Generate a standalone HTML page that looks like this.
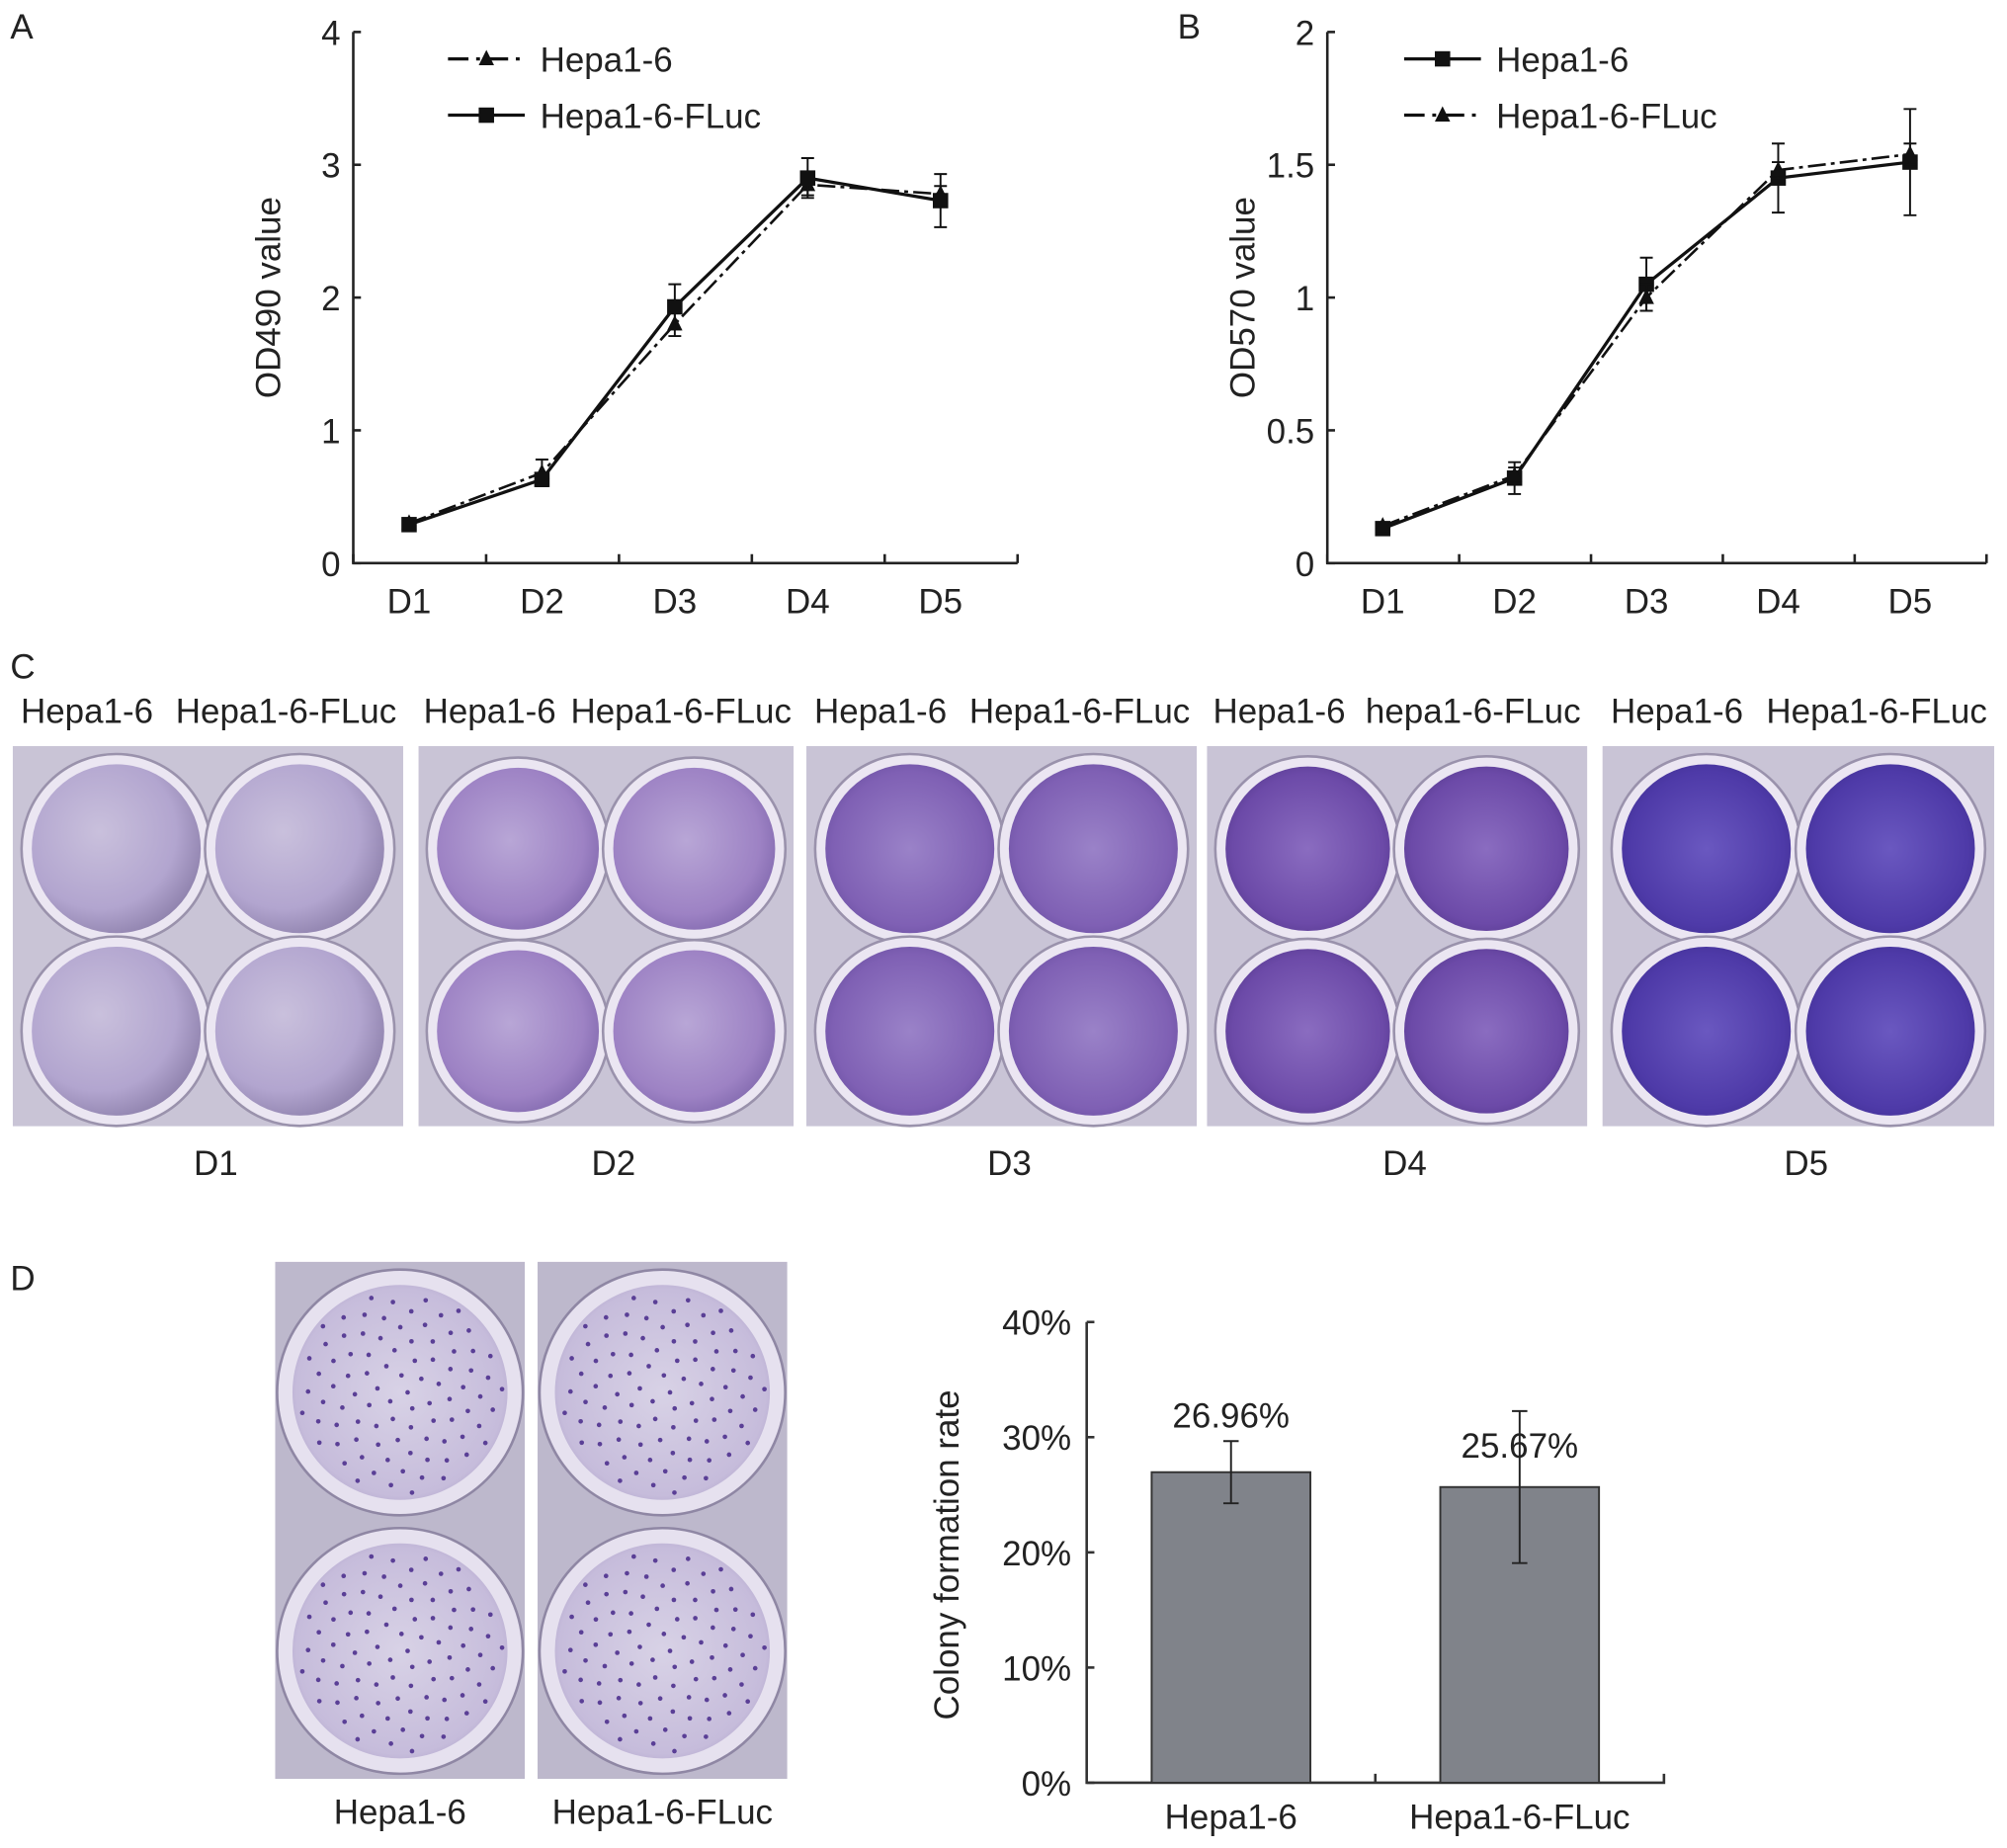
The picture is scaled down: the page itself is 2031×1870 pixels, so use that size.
<!DOCTYPE html>
<html><head><meta charset="utf-8"><style>
html,body{margin:0;padding:0;background:#fff;}
svg{display:block;font-family:"Liberation Sans",Arial,sans-serif;}
</style></head><body>
<svg id="fig" width="2031" height="1870" viewBox="0 0 1568 1444" preserveAspectRatio="none" xmlns="http://www.w3.org/2000/svg">
<defs>
<radialGradient id="w1" cx="40%" cy="40%" r="65%"><stop offset="0" stop-color="#c9c0dc"/><stop offset="0.7" stop-color="#b2a5cf"/><stop offset="1" stop-color="#8f82ad"/></radialGradient>
<radialGradient id="w2" cx="45%" cy="45%" r="65%"><stop offset="0" stop-color="#b8a6d6"/><stop offset="0.7" stop-color="#9d82c4"/><stop offset="1" stop-color="#7a62a8"/></radialGradient>
<radialGradient id="w3" cx="50%" cy="50%" r="65%"><stop offset="0" stop-color="#9a82c8"/><stop offset="0.7" stop-color="#7f60b4"/><stop offset="1" stop-color="#5f4696"/></radialGradient>
<radialGradient id="w4" cx="50%" cy="50%" r="65%"><stop offset="0" stop-color="#8a6cc0"/><stop offset="0.7" stop-color="#6c4aa8"/><stop offset="1" stop-color="#4a3080"/></radialGradient>
<radialGradient id="w5" cx="50%" cy="50%" r="65%"><stop offset="0" stop-color="#6a58c0"/><stop offset="0.7" stop-color="#4e3aa8"/><stop offset="1" stop-color="#3a2a88"/></radialGradient>
<radialGradient id="wd" cx="50%" cy="50%" r="60%"><stop offset="0" stop-color="#d8d2e6"/><stop offset="0.8" stop-color="#c6bcdb"/><stop offset="1" stop-color="#a99cc6"/></radialGradient>
</defs>
<g id="chartA"></g>
<g id="chartB"></g>
<g id="panelC"></g>
<g id="panelD"></g>
<g id="chartD"></g>
</svg>
<script>
const days = ["D1","D2","D3","D4","D5"];
const aTicks = [0,1,2,3,4];
const aHepa = [0.30,0.68,1.80,2.85,2.78];
const aHepaErr = [0.03,0.10,0.09,0.08,0.06];
const aFluc = [0.29,0.63,1.93,2.90,2.73];
const aFlucErr = [0.03,0.05,0.17,0.15,0.20];
const bTicks = [0,0.5,1,1.5,2];
const bTickLabels = ["0","0.5","1","1.5","2"];
const bHepa = [0.13,0.32,1.05,1.45,1.51];
const bHepaErr = [0.01,0.06,0.10,0.13,0.20];
const bFluc = [0.14,0.33,1.00,1.48,1.54];
const bFlucErr = [0.01,0.03,0.05,0.03,0.04];
const colonyCats = ["Hepa1-6","Hepa1-6-FLuc"];
const colonyVals = [26.96,25.67];
const colonyErr = [2.7,6.6];
const colonyLabels = ["26.96%","25.67%"];
const colonyTicks = [0,10,20,30,40];

const FS=27;
const NS="http://www.w3.org/2000/svg";
function mk(parent,tag,attrs,text){const e=document.createElementNS(NS,tag);for(const k in attrs)e.setAttribute(k,attrs[k]);if(text!==undefined)e.textContent=text;parent.appendChild(e);return e;}

function lineChart(g,o){
  const y=v=>o.y0-(v-o.min)/(o.max-o.min)*(o.y0-o.y1);
  const cw=(o.x1-o.x0)/days.length;
  const x=i=>o.x0+cw*(i+0.42);
  let ax=mk(g,'path',{d:`M${o.x0} ${o.y1} V${o.y0} H${o.x1}`,stroke:'#222','stroke-width':2,fill:'none'});
  
  o.ticks.forEach((t,i)=>{
    mk(g,'line',{x1:o.x0,x2:o.x0+6,y1:y(t),y2:y(t),stroke:'#222','stroke-width':2});
    let tl=mk(g,'text',{x:o.x0-10,y:y(t)+10,'text-anchor':'end','font-size':FS,fill:'#222'},o.tickLabels[i]);
    
  });
  for(let i=0;i<=days.length;i++)mk(g,'line',{x1:o.x0+cw*i,x2:o.x0+cw*i,y1:o.y0,y2:o.y0-7,stroke:'#222','stroke-width':2});
  days.forEach((d,i)=>{let t=mk(g,'text',{x:x(i),y:o.y0+39,'text-anchor':'middle','font-size':FS,fill:'#222'},d);
    });
  let yt=mk(g,'text',{transform:`translate(${o.x0-57},${(o.y0+o.y1)/2}) rotate(-90)`,'text-anchor':'middle','font-size':FS,fill:'#222'},o.title);
  
  mk(g,'text',{x:o.lx,y:30,'font-size':FS,fill:'#222'},o.letter);
  o.series.forEach((s,si)=>{
    const pts=s.v.map((v,i)=>`${x(i)},${y(v)}`).join(' ');
    let pl=mk(g,'polyline',{points:pts,fill:'none',stroke:'#111','stroke-width':s.dash?2:2.5,'stroke-dasharray':s.dash?'14 4 3 4':'none'});
    
    s.v.forEach((v,i)=>{
      const e=s.e[i];
      mk(g,'path',{d:`M${x(i)} ${y(v+e)} V${y(v-e)} M${x(i)-5} ${y(v+e)} H${x(i)+5} M${x(i)-5} ${y(v-e)} H${x(i)+5}`,stroke:'#111','stroke-width':1.5});
      let m;
      if(s.tri) m=mk(g,'path',{d:`M${x(i)} ${y(v)-7} L${x(i)+6} ${y(v)+5} L${x(i)-6} ${y(v)+5}Z`,fill:'#111'});
      else m=mk(g,'rect',{x:x(i)-6,y:y(v)-6,width:12,height:12,fill:'#111'});
      
    });
    const ly=o.legY+si*44;
    let lg=mk(g,'g',{});
    mk(lg,'line',{x1:o.legX,x2:o.legX+60,y1:ly,y2:ly,stroke:'#111','stroke-width':2.5,'stroke-dasharray':s.dash?'16 6 3 6':'none'});
    if(s.tri) mk(lg,'path',{d:`M${o.legX+30} ${ly-7} L${o.legX+36} ${ly+5} L${o.legX+24} ${ly+5}Z`,fill:'#111'});
    else mk(lg,'rect',{x:o.legX+24,y:ly-6,width:12,height:12,fill:'#111'});
    mk(lg,'text',{x:o.legX+72,y:ly+10,'font-size':FS,fill:'#222'},s.name);
  });
}
lineChart(document.getElementById('chartA'),{x0:276,x1:795,y0:440,y1:25,min:0,max:4,ticks:aTicks,tickLabels:aTicks.map(String),title:'OD490 value',letter:'A',lx:8,legX:350,legY:46,
  series:[{name:'Hepa1-6',v:aHepa,e:aHepaErr,dash:true,tri:true},{name:'Hepa1-6-FLuc',v:aFluc,e:aFlucErr,dash:false,tri:false}]});
lineChart(document.getElementById('chartB'),{x0:1037,x1:1552,y0:440,y1:25,min:0,max:2,ticks:bTicks,tickLabels:bTickLabels,title:'OD570 value',letter:'B',lx:920,legX:1097,legY:46,
  series:[{name:'Hepa1-6',v:bHepa,e:bHepaErr,dash:false,tri:false},{name:'Hepa1-6-FLuc',v:bFluc,e:bFlucErr,dash:true,tri:true}]});

// Panel C
const gc=document.getElementById('panelC');
mk(gc,'text',{x:8,y:530,'font-size':FS,fill:'#222'},'C');
const plates=[[10,315,'Hepa1-6','Hepa1-6-FLuc'],[327,620,'Hepa1-6','Hepa1-6-FLuc'],[630,935,'Hepa1-6','Hepa1-6-FLuc'],[943,1240,'Hepa1-6','hepa1-6-FLuc'],[1252,1558,'Hepa1-6','Hepa1-6-FLuc']];
plates.forEach((p,i)=>{
  const [a,b,l1,l2]=p;const w=b-a;
  let pg=mk(gc,'g',{});
  mk(pg,'rect',{x:a,y:583,width:w,height:297,fill:'#c9c4d6'});
  const r=Math.min(w/4-4,72);
  [[0.265,0.27],[0.735,0.27],[0.265,0.75],[0.735,0.75]].forEach(c=>{
    const cx=a+w*c[0],cy=583+297*c[1];
    mk(pg,'circle',{cx:cx,cy:cy,r:r+2,fill:'#ebe6f2',stroke:'#9a92ac','stroke-width':2});
    mk(pg,'circle',{cx:cx,cy:cy,r:r-6,fill:`url(#w${i+1})`});
  });
  mk(gc,'text',{x:a+w*0.19,y:565,'text-anchor':'middle','font-size':FS,fill:'#222'},l1);
  mk(gc,'text',{x:a+w*0.70,y:565,'text-anchor':'middle','font-size':FS,fill:'#222'},l2);
  let dl=mk(gc,'text',{x:a+w*0.52,y:918,'text-anchor':'middle','font-size':FS,fill:'#222'},days[i]);
  
});

// Panel D plates
const gd=document.getElementById('panelD');
mk(gd,'text',{x:8,y:1008,'font-size':FS,fill:'#222'},'D');
[[215,410],[420,615]].forEach((p,i)=>{
  const [a,b]=p,w=b-a;
  let pg=mk(gd,'g',{});
  mk(pg,'rect',{x:a,y:986,width:w,height:404,fill:'#bdb8cc'});
  [1088,1290].forEach(cy=>{
    mk(pg,'circle',{cx:a+w/2,cy:cy,r:96,fill:'#e6e1ef',stroke:'#8f87a4','stroke-width':2});
    mk(pg,'circle',{cx:a+w/2,cy:cy,r:84,fill:'url(#wd)'});
    for(let k=0;k<90;k++){const ang=k*2.39996,rr=80*Math.sqrt((k+0.5)/90);
      mk(pg,'circle',{cx:a+w/2+rr*Math.cos(ang),cy:cy+rr*Math.sin(ang),r:1.8,fill:'#5a3f96'});}
  });
  mk(gd,'text',{x:a+w/2,y:1425,'text-anchor':'middle','font-size':FS,fill:'#222'},colonyCats[i]);
});

// Bar chart
const gb=document.getElementById('chartD');
const bx0=849,bx1=1300,by0=1393,by1=1033;
const by=v=>by0-v/40*(by0-by1);
mk(gb,'path',{d:`M${bx0} ${by1} V${by0} H${bx1} V${by0-7} M${(bx0+bx1)/2} ${by0} V${by0-7}`,stroke:'#333','stroke-width':2,fill:'none'});
colonyTicks.forEach(t=>{mk(gb,'line',{x1:bx0,x2:bx0+6,y1:by(t),y2:by(t),stroke:'#333','stroke-width':2});
  let tl=mk(gb,'text',{x:bx0-12,y:by(t)+10,'text-anchor':'end','font-size':FS,fill:'#222'},t+'%');
  });
let ytt=mk(gb,'text',{transform:`translate(${bx0-100},${(by0+by1)/2+2}) rotate(-90)`,'text-anchor':'middle','font-size':FS,fill:'#222'},'Colony formation rate');

const bw=(bx1-bx0)/colonyCats.length;
colonyVals.forEach((v,i)=>{
  const cx=bx0+bw*(i+0.5);
  let r=mk(gb,'rect',{x:cx-62,y:by(v),width:124,height:by0-by(v),fill:'#80838a',stroke:'#333','stroke-width':1.5});
  
  const e=colonyErr[i];
  mk(gb,'path',{d:`M${cx} ${by(v+e)} V${by(v-e)} M${cx-6} ${by(v+e)} H${cx+6} M${cx-6} ${by(v-e)} H${cx+6}`,stroke:'#222','stroke-width':1.5});
  let vl=mk(gb,'text',{x:cx,y:by(v)-35+i*12,'text-anchor':'middle','font-size':FS,fill:'#222'},colonyLabels[i]);
  
  let xl=mk(gb,'text',{x:cx,y:by0+36,'text-anchor':'middle','font-size':FS,fill:'#222'},colonyCats[i]);
  
});
</script>
</body></html>
